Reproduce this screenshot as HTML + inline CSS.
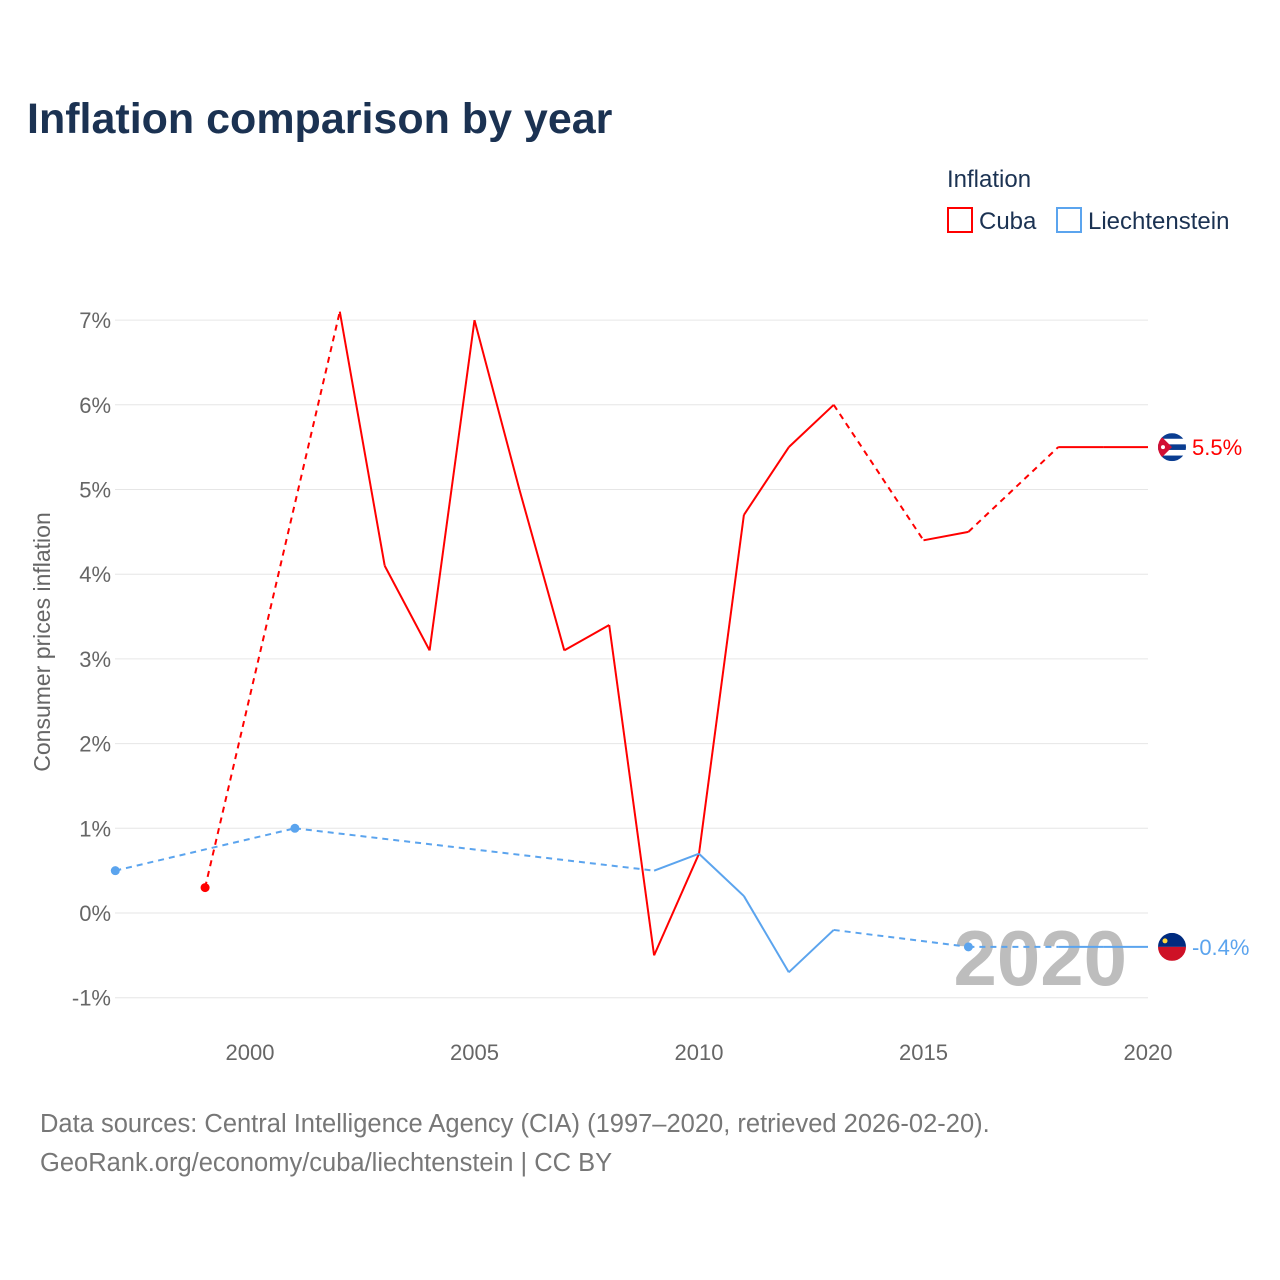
<!DOCTYPE html>
<html><head><meta charset="utf-8">
<style>
body{margin:0;background:#fff;font-family:"Liberation Sans",sans-serif;}
#wrap{position:relative;width:1280px;height:1280px;overflow:hidden;}
</style></head><body>
<div id="wrap">
<svg id="svg" width="1280" height="1280" xmlns="http://www.w3.org/2000/svg">
<text x="27" y="133" font-size="43" font-weight="bold" fill="#1b3252">Inflation comparison by year</text>
<text x="947" y="187" font-size="24" fill="#1b3252">Inflation</text>
<g><rect x="948" y="208" width="24" height="24" fill="none" stroke="#ff0000" stroke-width="2"/><text x="979" y="229" font-size="24" fill="#1b3252">Cuba</text></g>
<g><rect x="1057" y="208" width="24" height="24" fill="none" stroke="#5ba4ee" stroke-width="2"/><text x="1088" y="229" font-size="24" fill="#1b3252">Liechtenstein</text></g>
<text transform="translate(50,642) rotate(-90)" text-anchor="middle" font-size="23" fill="#666">Consumer prices inflation</text>
<g id="grid"></g><g id="yt"></g><g id="xt"></g>
<text x="1127" y="985" text-anchor="end" font-size="78" font-weight="bold" fill="#bdbdbd">2020</text>
<g id="series"></g>
<text x="40" y="1132" font-size="25.5" fill="#777">Data sources: Central Intelligence Agency (CIA) (1997–2020, retrieved 2026-02-20).</text>
<text x="40" y="1171" font-size="25.5" fill="#777">GeoRank.org/economy/cuba/liechtenstein | CC BY</text>
</svg></div>
<script>
const yTicks=[-1,0,1,2,3,4,5,6,7];
const xTicks=[2000,2005,2010,2015,2020];
const cubaYears=[1999,2002,2003,2004,2005,2006,2007,2008,2009,2010,2011,2012,2013,2015,2016,2018,2019,2020];
const cubaValues=[0.3,7.1,4.1,3.1,7.0,5.0,3.1,3.4,-0.5,0.7,4.7,5.5,6.0,4.4,4.5,5.5,5.5,5.5];
const liYears=[1997,2001,2009,2010,2011,2012,2013,2016,2018,2019,2020];
const liValues=[0.5,1.0,0.5,0.7,0.2,-0.7,-0.2,-0.4,-0.4,-0.4,-0.4];
const NS="http://www.w3.org/2000/svg";
const X=y=>115.3+(y-1997)*44.9;
const Y=v=>913-v*84.7;
function mk(tag,attrs,parent){const e=document.createElementNS(NS,tag);for(const k in attrs)e.setAttribute(k,attrs[k]);parent.appendChild(e);return e;}
const grid=document.getElementById('grid'),yt=document.getElementById('yt'),xt=document.getElementById('xt'),ser=document.getElementById('series');
yTicks.forEach(t=>{
 const l=mk('line',{x1:115,x2:1148,y1:Y(t),y2:Y(t),stroke:'#e6e6e6','stroke-width':1},grid);
 
 
 const tx=mk('text',{x:111,y:Y(t)+8,'text-anchor':'end','font-size':22,fill:'#666'},yt);
 tx.textContent=t+'%';
 
 
});
xTicks.forEach(t=>{
 const tx=mk('text',{x:X(t),y:1060,'text-anchor':'middle','font-size':22,fill:'#666'},xt);
 tx.textContent=t;
 
 
});
function drawSeries(years,vals,color,name){
 const g=mk('g',{},ser);
 
 
 for(let i=0;i<years.length-1;i++){
  const gap=years[i+1]-years[i]>1;
  const a={x1:X(years[i]),y1:Y(vals[i]),x2:X(years[i+1]),y2:Y(vals[i+1]),stroke:color,'stroke-width':2};
  if(gap)a['stroke-dasharray']='6,5';
  const l=mk('line',a,g);
  
  
 }
 for(let i=0;i<years.length;i++){
  const prev=i>0&&years[i]-years[i-1]===1, next=i<years.length-1&&years[i+1]-years[i]===1;
  if(!prev&&!next){
   const c=mk('circle',{cx:X(years[i]),cy:Y(vals[i]),r:4.5,fill:color},g);
   
   
  }
 }
 const lv=vals[vals.length-1];
 const t=mk('text',{x:1192,y:Y(lv)+8,'font-size':22,fill:color},g);
 t.textContent=lv.toFixed(1)+'%';
 
 
 return Y(lv);
}
const cy=drawSeries(cubaYears,cubaValues,'#ff0000','cuba');
const ly=drawSeries(liYears,liValues,'#5ba4ee','liechtenstein');
const f1=mk('g',{},ser);


mk('defs',{},f1).innerHTML='<clipPath id="c1"><circle cx="1172" cy="'+cy+'" r="14"/></clipPath><clipPath id="c2"><circle cx="1172" cy="'+ly+'" r="14"/></clipPath>';
const g1=mk('g',{'clip-path':'url(#c1)'},f1);
mk('rect',{x:1158,y:cy-14,width:28,height:28,fill:'#fff'},g1);
[0,2,4].forEach(k=>mk('rect',{x:1158,y:cy-14+k*5.6,width:28,height:5.6,fill:'#0a3d91'},g1));
mk('polygon',{points:`1158,${cy-14} 1172,${cy} 1158,${cy+14}`,fill:'#d21034'},g1);
mk('circle',{cx:1163,cy:cy,r:2,fill:'#fff'},g1);
const f2=mk('g',{'clip-path':'url(#c2)'},ser);


mk('rect',{x:1158,y:ly-14,width:28,height:14,fill:'#002b7f'},f2);
mk('rect',{x:1158,y:ly,width:28,height:14,fill:'#ce1126'},f2);
mk('circle',{cx:1165,cy:ly-6,r:2.5,fill:'#ffd83d'},f2);
</script>
</body></html>
